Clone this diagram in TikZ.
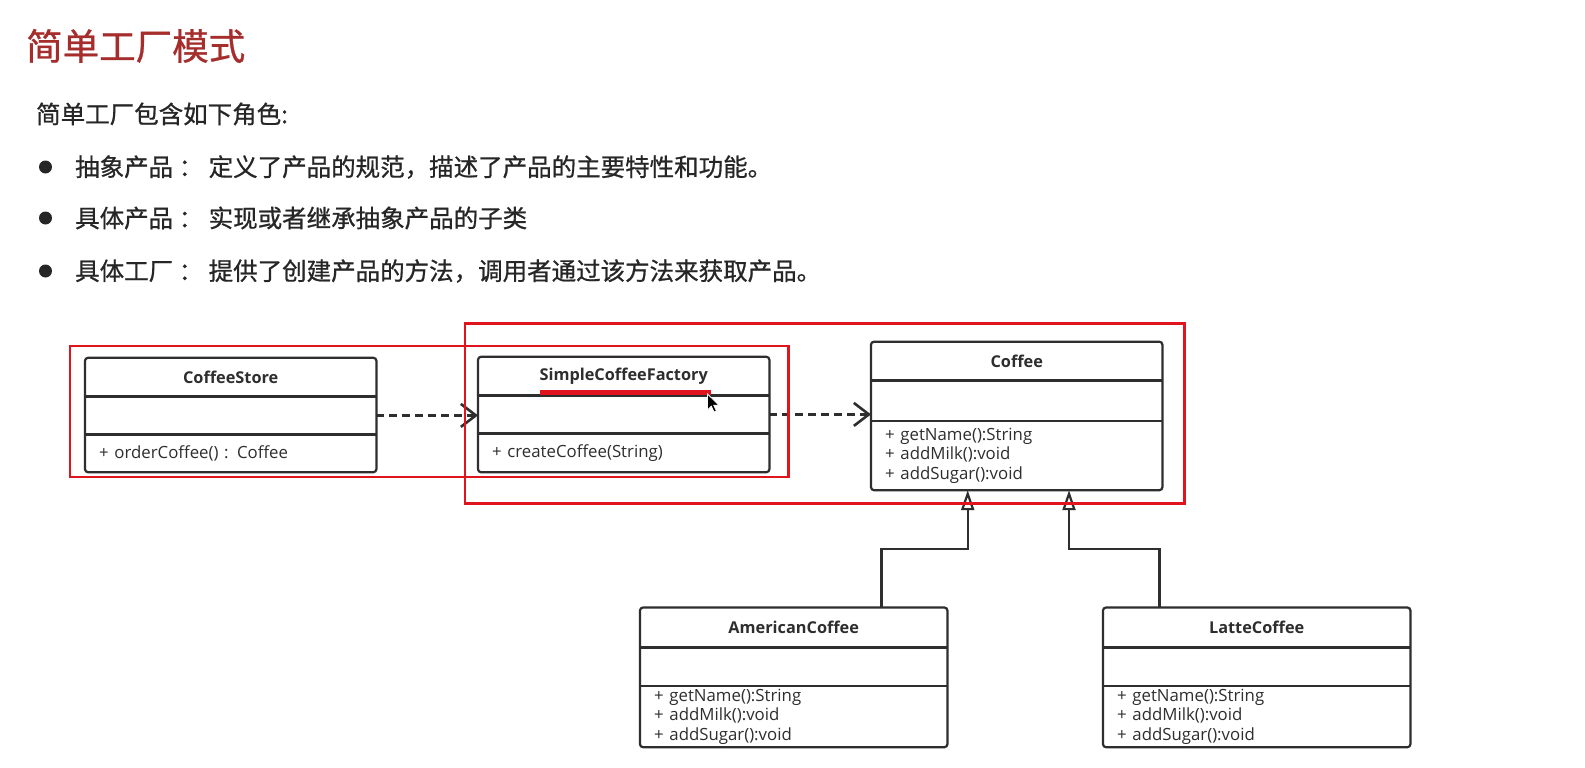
\documentclass[tikz,border=0pt]{standalone}
\usepackage{fontspec}
\usepackage{xcolor}
\newfontfamily\cjk[RawFeature={embolden=0.8}]{Noto Sans CJK SC}
\newfontfamily\umlfont{Open Sans}
\definecolor{titleRed}{HTML}{A52D2C}
\definecolor{markRed}{HTML}{E0141C}
\definecolor{umlGray}{HTML}{2E2E2E}
\definecolor{textGray}{HTML}{262626}
\usetikzlibrary{positioning,calc,arrows.meta}

\begin{document}
\begin{tikzpicture}[x=1pt,y=-1pt,
  bodytext/.style={anchor=west, inner sep=0pt, text=textGray, font=\cjk\fontsize{24.5}{30}\selectfont},
  dot/.style={circle, fill=textGray, inner sep=0pt, minimum size=13},
  classhead/.style={text width=#1, align=center, inner xsep=14pt, inner ysep=0pt, text=umlGray, font=\umlfont\bfseries\fontsize{16.3}{19.5}\selectfont},
  classpart/.style={text width=#1, align=left, inner xsep=14pt, inner ysep=0pt, text=umlGray, font=\umlfont\fontsize{16.8}{19.6}\selectfont},
  classframe/.style={draw=umlGray, line width=2.2pt, rounded corners=3pt},
  classline/.style={draw=umlGray, line width=2.2pt},
  depend/.style={draw=umlGray, line width=2.6pt, dash pattern=on 8pt off 5pt, -{Straight Barb[length=15pt,width=23pt,line width=2.6pt]}},
  inherit/.style={draw=umlGray, line width=2.2pt, -{Triangle[open,length=20pt,width=13pt,line width=2.2pt]}},
  markframe/.style={draw=markRed, line width=2.6pt}]
  \useasboundingbox[fill=white] (0,0) rectangle (1585,768);

  % heading and bullet list
  \node[anchor=west, inner sep=0pt, text=titleRed, font=\cjk\fontsize{36.5}{40}\selectfont] (title) at (26,46) {简单工厂模式};
  \node[bodytext] (intro) at (36,114) {简单工厂包含如下角色:};
  \node[dot] (dotA) at (45.5,167) {};
  \node[bodytext] (roleA) at (75,167) {抽象产品 ： 定义了产品的规范，描述了产品的主要特性和功能。};
  \node[dot] (dotB) at (45.5,218) {};
  \node[bodytext] (roleB) at (75,218) {具体产品 ： 实现或者继承抽象产品的子类};
  \node[dot] (dotC) at (45.5,271) {};
  \node[bodytext] (roleC) at (75,271) {具体工厂 ： 提供了创建产品的方法，调用者通过该方法来获取产品。};

  % classes
  \node[classhead=263, minimum height=38.2, anchor=north west] (csHead) at (85,357.8) {CoffeeStore};
  \node[classpart=263, minimum height=37.6, below=0pt of csHead] (csAttr) {};
  \node[classpart=263, minimum height=37.4, below=0pt of csAttr] (csOps) {+ orderCoffee() : Coffee};

  \node[classhead=263, minimum height=38.2, anchor=north west] (scfHead) at (478,356.8) {SimpleCoffeeFactory};
  \node[classpart=263, minimum height=37.6, below=0pt of scfHead] (scfAttr) {};
  \node[classpart=263, minimum height=38.4, below=0pt of scfAttr] (scfOps) {+ createCoffee(String)};

  \node[classhead=263, minimum height=38.3, anchor=north west] (coffeeHead) at (871,341.7) {Coffee};
  \node[classpart=263, minimum height=40.5, below=0pt of coffeeHead] (coffeeAttr) {};
  \node[classpart=263, minimum height=68.5, below=0pt of coffeeAttr] (coffeeOps) {+ getName():String\\+ addMilk():void\\+ addSugar():void};

  \node[classhead=279, minimum height=39.5, anchor=north west] (amHead) at (640,607.5) {AmericanCoffee};
  \node[classpart=279, minimum height=38, below=0pt of amHead] (amAttr) {};
  \node[classpart=279, minimum height=61, below=0pt of amAttr] (amOps) {+ getName():String\\+ addMilk():void\\+ addSugar():void};

  \node[classhead=279, minimum height=39.5, anchor=north west] (latteHead) at (1103,607.5) {LatteCoffee};
  \node[classpart=279, minimum height=38, below=0pt of latteHead] (latteAttr) {};
  \node[classpart=279, minimum height=61, below=0pt of latteAttr] (latteOps) {+ getName():String\\+ addMilk():void\\+ addSugar():void};

  \foreach \c in {cs,scf,coffee,am,latte} {
    \draw[classframe] (\c Head.north west) rectangle (\c Ops.south east);
    \draw[classline] (\c Attr.north west) -- (\c Attr.north east);
    \draw[classline] (\c Ops.north west) -- (\c Ops.north east);
  }

  % relations
  \draw[depend] (csAttr.east) -- (csAttr.east -| scfAttr.west);
  \draw[depend] (scfAttr.east) -- (scfAttr.east -| coffeeAttr.west);
  \coordinate (amTop) at ($(amHead.north west)+(241.4,0)$);
  \coordinate (amTip) at ($(coffeeOps.south west)+(96.7,0)$);
  \coordinate (latteTop) at ($(latteHead.north west)+(56.4,0)$);
  \coordinate (latteTip) at ($(coffeeOps.south west)+(198,0)$);
  \draw[inherit] (amTop) -- ++(0,-58.6) -| (amTip);
  \draw[inherit] (latteTop) -- ++(0,-58.6) -| (latteTip);

  % red marks
  \draw[markframe] (70,346) rectangle (788.5,477);
  \draw[markframe] (465,323.5) rectangle (1184.5,503.5);
  \draw[markRed, line width=4.5pt] ($(scfHead.south west)+(62,-3)$) -- ($(scfHead.south west)+(233,-3)$);
  \filldraw[fill=black, draw=white, line width=0.8pt, shift={(707.5,394)}]
    (0,0) -- (0,16) -- (3.8,12.2) -- (6.6,18) -- (9,17) -- (6.2,11.2) -- (11.4,11.2) -- cycle;
\end{tikzpicture}
\end{document}
